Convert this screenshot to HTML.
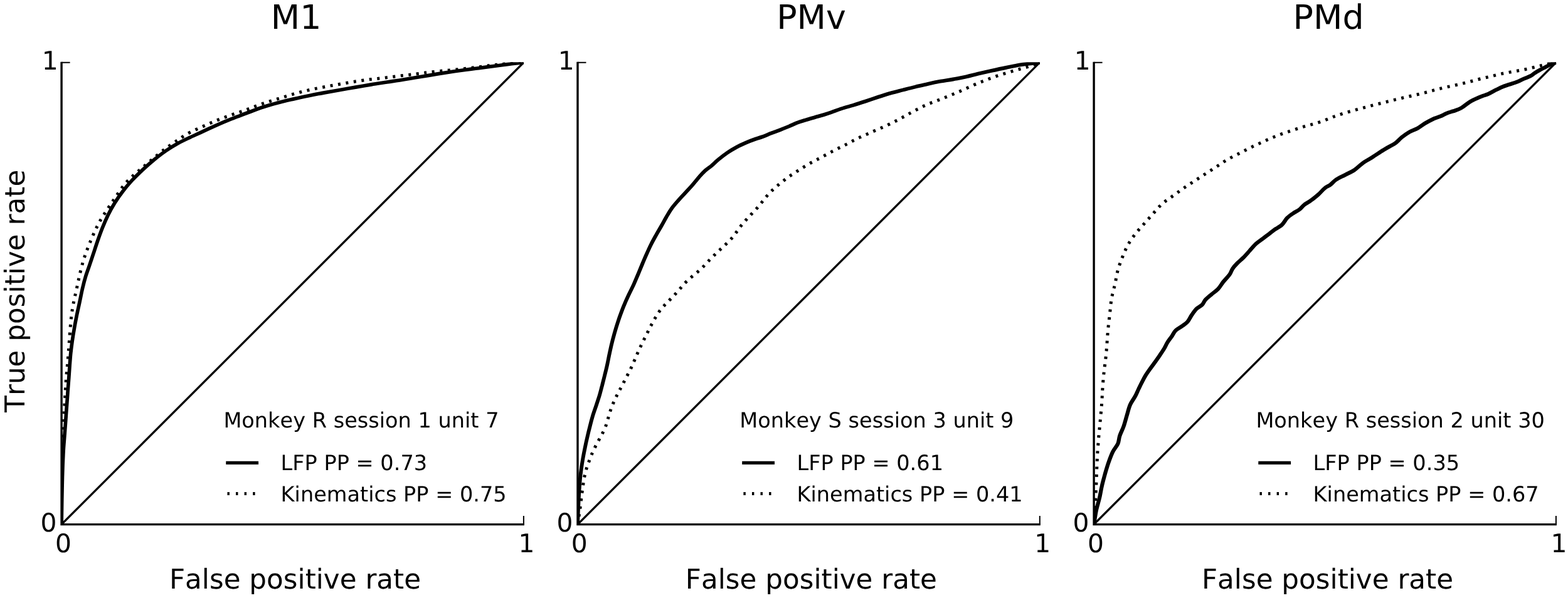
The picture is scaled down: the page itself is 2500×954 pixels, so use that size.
<!DOCTYPE html>
<html lang="en"><head><meta charset="utf-8"><title>ROC curves: M1, PMv, PMd</title>
<style>html,body{margin:0;padding:0;background:#fff;}body{width:2500px;height:954px;overflow:hidden;}main,figure{display:block;margin:0;padding:0;}svg{display:block;shape-rendering:geometricPrecision;}text{font-family:'DejaVu Sans', 'Liberation Sans', sans-serif;fill:#000;font-kerning:none;font-variant-ligatures:none;text-rendering:geometricPrecision;}</style></head><body><main><figure class="roc-figure">
<svg class="roc-panels" role="img" width="2500" height="954" viewBox="0 0 2500 954">
<rect width="2500" height="954" fill="#fff"/>
<g class="panel" id="panel-m1">
<clipPath id="clip0"><rect x="98.1" y="99.2" width="737.1" height="737.4"/></clipPath>
<g clip-path="url(#clip0)">
<line x1="98.1" y1="836.6" x2="834.9" y2="99.7" stroke="#000" stroke-width="3.3"/>
<path d="M98.1 836.6C98.2 827.1 98.4 798.1 98.6 779.6C98.8 761.1 99.1 741.5 99.5 725.6C99.9 709.7 100.4 696.2 100.9 684.4C101.4 672.5 101.9 664.0 102.5 654.4C103.0 644.7 103.5 635.1 104.0 626.3C104.5 617.5 105.1 609.1 105.7 601.7C106.3 594.2 106.9 588.8 107.5 581.7C108.2 574.6 108.8 566.9 109.4 559.0C110.0 551.0 110.6 541.8 111.2 534.0C111.8 526.3 112.3 519.0 113.0 512.2C113.7 505.4 114.4 499.4 115.4 493.2C116.3 487.1 117.6 481.6 118.9 475.5C120.2 469.3 121.7 463.1 123.1 456.5C124.6 449.8 126.0 442.5 127.6 435.9C129.2 429.2 130.9 422.6 132.7 416.5C134.5 410.4 136.5 404.9 138.6 399.2C140.7 393.5 143.0 387.8 145.2 382.6C147.3 377.4 149.6 372.3 151.6 368.0C153.6 363.7 155.2 360.5 157.1 357.0C158.9 353.4 160.7 350.3 162.8 346.9C164.9 343.5 167.3 339.9 169.5 336.5C171.7 333.1 174.0 329.6 176.1 326.4C178.3 323.1 180.5 320.0 182.7 316.8C184.8 313.6 187.0 310.5 189.2 307.2C191.4 304.0 193.6 300.6 195.9 297.6C198.3 294.5 200.6 291.8 203.2 289.1C205.8 286.3 208.5 283.7 211.3 281.2C214.1 278.6 216.7 276.3 219.8 273.6C222.9 270.9 225.9 268.6 230.1 265.0C234.3 261.4 239.8 256.6 245.1 252.3C250.3 247.9 256.7 242.6 261.6 238.8C266.5 235.0 270.6 232.2 274.4 229.6C278.2 226.9 281.1 225.1 284.5 222.8C287.9 220.5 291.2 218.1 294.8 215.9C298.4 213.7 302.2 211.6 306.0 209.7C309.8 207.8 313.9 206.0 317.8 204.3C321.6 202.5 325.3 200.8 329.0 199.2C332.8 197.5 336.4 195.9 340.2 194.3C344.1 192.7 348.0 191.1 352.0 189.5C356.0 188.0 360.1 186.4 364.2 185.0C368.2 183.5 372.2 182.2 376.2 180.8C380.2 179.5 384.1 178.2 388.1 176.8C392.0 175.4 395.9 173.9 399.8 172.4C403.7 170.9 407.5 169.4 411.5 167.9C415.5 166.4 419.6 165.0 423.6 163.7C427.7 162.3 431.8 161.1 435.9 159.9C440.0 158.6 443.9 157.4 448.0 156.2C452.1 154.9 456.2 153.6 460.3 152.3C464.4 151.1 468.5 149.8 472.7 148.7C476.8 147.5 480.8 146.4 485.0 145.4C489.2 144.4 493.4 143.4 497.8 142.5C502.1 141.5 506.5 140.7 510.9 139.8C515.2 139.0 519.5 138.2 523.8 137.4C528.1 136.6 532.4 135.9 536.7 135.1C541.0 134.4 545.3 133.6 549.7 132.9C554.0 132.1 558.4 131.3 562.8 130.6C567.1 129.9 571.5 129.2 575.8 128.6C580.2 127.9 584.6 127.4 588.9 126.8C593.3 126.3 597.6 125.9 602.0 125.4C606.4 124.9 610.7 124.5 615.1 123.9C619.5 123.4 623.9 122.8 628.3 122.2C632.7 121.7 637.2 121.1 641.7 120.5C646.1 120.0 650.7 119.5 655.1 119.0C659.6 118.5 663.5 118.0 668.4 117.3C673.3 116.7 678.0 116.0 684.5 115.3C691.0 114.6 699.2 113.7 707.5 112.9C715.8 112.1 725.5 111.2 734.4 110.2C743.2 109.3 752.5 108.1 760.8 107.1C769.1 106.1 776.6 105.0 784.2 104.1C791.8 103.2 798.0 102.4 806.5 101.7C814.9 101.0 830.2 100.0 834.9 99.7" fill="none" stroke="#000" stroke-width="5.0" stroke-dasharray="4.0 8.6" stroke-linejoin="round"/>
<path d="M98.1 836.6C98.2 830.0 98.5 810.4 98.7 797.1C99.0 783.8 99.2 768.8 99.6 756.9C99.9 744.9 100.3 735.0 100.8 725.6C101.2 716.2 101.8 708.9 102.5 700.6C103.1 692.3 103.8 683.9 104.4 675.6C105.0 667.3 105.6 658.9 106.2 650.6C106.8 642.3 107.5 633.7 108.0 625.6C108.6 617.5 109.3 609.4 109.8 602.2C110.3 595.0 110.7 588.7 111.2 582.3C111.7 575.9 112.1 570.3 112.7 564.0C113.4 557.6 114.2 550.9 115.2 544.0C116.2 537.1 117.4 529.7 118.7 522.5C119.9 515.3 121.4 508.1 122.8 501.0C124.3 493.9 125.9 487.0 127.3 480.1C128.8 473.2 130.0 466.4 131.6 459.8C133.1 453.3 134.7 447.0 136.6 440.8C138.5 434.7 140.7 429.1 142.7 423.1C144.8 417.1 146.8 411.1 148.9 404.7C151.0 398.3 153.1 391.6 155.5 384.7C157.9 377.8 160.5 370.5 163.3 363.5C166.1 356.6 169.2 349.4 172.4 342.8C175.7 336.1 179.1 330.0 182.9 323.8C186.7 317.6 190.8 311.7 195.4 305.7C199.9 299.7 205.0 293.7 210.3 287.9C215.6 282.2 221.4 276.6 227.2 271.1C233.0 265.6 239.0 260.3 245.2 255.2C251.5 250.1 258.1 245.0 264.6 240.5C271.0 236.1 277.7 232.1 283.9 228.6C290.1 225.1 296.0 222.4 302.0 219.6C308.0 216.7 313.8 214.3 320.0 211.4C326.3 208.5 332.9 205.3 339.4 202.4C345.8 199.4 352.2 196.5 358.7 193.8C365.2 191.1 371.5 188.8 378.2 186.2C385.0 183.6 392.1 180.8 399.2 178.2C406.2 175.5 413.2 172.8 420.5 170.5C427.8 168.1 435.2 166.1 442.9 164.0C450.7 161.9 459.1 160.0 467.3 158.1C475.5 156.2 483.9 154.3 492.2 152.7C500.5 151.0 508.9 149.4 517.2 147.9C525.5 146.4 533.8 144.9 542.1 143.5C550.4 142.0 558.7 140.6 567.0 139.1C575.3 137.7 583.7 136.3 592.0 134.9C600.3 133.5 608.6 132.3 616.9 131.0C625.2 129.7 633.2 128.6 641.8 127.2C650.5 125.9 659.5 124.4 668.8 122.8C678.1 121.3 688.5 119.4 697.8 117.9C707.1 116.4 716.1 115.0 724.7 113.7C733.3 112.5 741.3 111.5 749.6 110.4C757.9 109.3 766.7 108.2 774.6 107.2C782.5 106.1 790.1 105.1 797.0 104.2C803.9 103.3 809.5 102.5 815.9 101.7C822.2 101.0 831.7 100.0 834.9 99.7" fill="none" stroke="#000" stroke-width="5.7" stroke-linejoin="round"/>
</g>
<path d="M98.1 98.7 V836.6 H835.9" fill="none" stroke="#000" stroke-width="3.4"/>
<path d="M98.1 99.7 h13.5 M98.1 836.6 h13.5 M98.1 836.6 v-13.5 M834.9 836.6 v-13.5" fill="none" stroke="#000" stroke-width="2.0"/>
<text x="79.8" y="110.9" font-size="40.8" text-anchor="middle">1</text>
<text x="77.6" y="847.7" font-size="40.8" text-anchor="middle">0</text>
<text x="100.9" y="880.9" font-size="40.8" text-anchor="middle">0</text>
<text x="839.4" y="880.9" font-size="40.8" text-anchor="middle">1</text>
<text x="470.5" y="939.2" font-size="43.65" text-anchor="middle">False positive rate</text>
<text transform="translate(472.1 46.0) scale(1 0.994)" font-size="53.8" text-anchor="middle">M1</text>
<text x="356.4" y="682.4" font-size="33.55">Monkey R session 1 unit 7</text>
<line x1="360.3" y1="738.4" x2="412.1" y2="738.4" stroke="#000" stroke-width="5.2"/>
<line x1="362.5" y1="787.4" x2="412.1" y2="787.4" stroke="#000" stroke-width="5.0" stroke-dasharray="3.40 10.17"/>
<text x="447.6" y="750.4" font-size="33.55">LFP PP = 0.73</text>
<text x="447.6" y="799.7" font-size="33.55">Kinematics PP = 0.75</text>
</g>
<g class="panel" id="panel-pmv">
<clipPath id="clip1"><rect x="921.0" y="99.2" width="737.1" height="737.4"/></clipPath>
<g clip-path="url(#clip1)">
<line x1="921.0" y1="836.6" x2="1657.8" y2="99.7" stroke="#000" stroke-width="3.3"/>
<path d="M921.0 836.6C921.6 832.5 923.6 820.2 924.8 811.7C925.9 803.2 927.0 793.8 928.0 785.8C929.1 777.7 930.2 769.6 931.3 763.3C932.5 757.0 933.7 752.6 934.9 748.2C936.1 743.9 937.4 740.8 938.7 737.2C940.0 733.6 941.2 730.1 942.7 726.5C944.2 723.0 945.8 719.4 947.5 715.9C949.2 712.3 951.1 708.8 952.9 705.3C954.8 701.9 956.8 698.4 958.6 695.0C960.4 691.6 962.3 688.3 963.8 684.7C965.4 681.2 966.6 677.5 967.8 673.8C969.0 670.0 969.9 665.9 971.1 662.0C972.3 658.2 973.4 654.4 974.8 650.7C976.1 647.0 977.7 643.4 979.3 639.8C980.9 636.1 982.7 632.5 984.4 629.1C986.2 625.6 987.9 622.4 989.7 619.1C991.4 615.8 993.1 612.7 994.8 609.3C996.5 606.0 998.3 602.6 1000.1 599.1C1001.9 595.6 1003.9 592.0 1005.6 588.4C1007.3 584.8 1008.9 581.2 1010.4 577.6C1012.0 574.1 1013.4 570.6 1014.9 567.1C1016.4 563.6 1018.0 560.1 1019.6 556.6C1021.2 553.0 1022.9 549.5 1024.6 546.0C1026.3 542.4 1028.2 538.9 1029.9 535.5C1031.7 532.0 1033.3 528.5 1035.0 525.1C1036.7 521.7 1038.5 518.4 1040.2 515.2C1042.0 511.9 1043.8 508.7 1045.7 505.5C1047.7 502.3 1049.6 499.0 1051.8 496.0C1054.1 492.9 1056.7 490.1 1059.2 487.3C1061.7 484.5 1064.4 482.0 1067.0 479.3C1069.6 476.6 1072.3 474.0 1074.8 471.2C1077.4 468.4 1080.0 465.5 1082.5 462.6C1085.0 459.8 1087.3 456.8 1089.8 454.0C1092.4 451.3 1095.0 448.6 1097.8 446.0C1100.6 443.4 1103.7 441.0 1106.7 438.4C1109.7 435.9 1112.9 433.4 1115.7 430.8C1118.6 428.2 1121.2 425.5 1123.7 422.8C1126.3 420.1 1128.5 417.5 1131.1 414.9C1133.6 412.2 1136.3 409.6 1139.0 406.9C1141.7 404.3 1144.5 401.6 1147.3 399.0C1150.1 396.3 1153.0 393.8 1155.8 391.1C1158.5 388.4 1161.4 385.8 1164.0 383.0C1166.7 380.2 1169.1 377.2 1171.4 374.2C1173.7 371.2 1175.7 368.0 1177.9 365.0C1180.1 362.0 1182.4 359.1 1184.8 356.2C1187.3 353.3 1189.9 350.4 1192.5 347.6C1195.0 344.8 1197.7 342.0 1200.3 339.2C1202.8 336.4 1205.5 333.8 1207.9 331.0C1210.4 328.1 1212.7 325.1 1215.1 322.2C1217.4 319.3 1219.7 316.2 1222.1 313.3C1224.6 310.4 1227.1 307.6 1229.8 305.0C1232.5 302.3 1235.4 299.7 1238.3 297.2C1241.3 294.7 1244.3 292.1 1247.4 289.7C1250.5 287.3 1253.6 284.8 1256.8 282.5C1260.0 280.2 1263.3 278.2 1266.7 276.0C1270.0 273.8 1273.3 271.7 1276.7 269.6C1280.0 267.5 1283.5 265.2 1286.9 263.2C1290.3 261.1 1293.8 259.2 1297.2 257.4C1300.6 255.5 1304.0 253.9 1307.5 252.0C1310.9 250.2 1314.5 248.3 1318.0 246.4C1321.5 244.5 1325.1 242.4 1328.7 240.6C1332.3 238.7 1335.9 237.0 1339.5 235.2C1343.1 233.4 1346.8 231.7 1350.3 229.9C1353.9 228.0 1357.5 225.9 1361.1 224.1C1364.7 222.2 1368.3 220.3 1372.0 218.6C1375.7 216.8 1379.4 215.3 1383.1 213.7C1386.7 212.0 1390.4 210.4 1394.1 208.8C1397.9 207.1 1401.6 205.5 1405.4 203.9C1409.1 202.2 1412.9 200.6 1416.6 198.8C1420.4 197.1 1424.0 195.2 1427.7 193.3C1431.3 191.5 1434.8 189.5 1438.4 187.6C1442.0 185.7 1445.5 183.6 1449.0 181.6C1452.5 179.7 1456.1 177.7 1459.7 175.8C1463.3 174.0 1466.9 172.1 1470.5 170.3C1474.2 168.5 1477.9 166.8 1481.7 165.2C1485.5 163.7 1489.4 162.3 1493.3 160.8C1497.2 159.3 1501.1 157.8 1505.0 156.2C1508.8 154.7 1512.6 153.2 1516.4 151.6C1520.2 150.0 1524.0 148.5 1527.7 146.8C1531.5 145.2 1535.2 143.4 1539.0 141.8C1542.7 140.1 1546.5 138.3 1550.2 136.7C1554.0 135.0 1557.9 133.4 1561.6 131.8C1565.4 130.3 1569.1 128.8 1572.9 127.3C1576.6 125.8 1580.3 124.4 1584.2 123.1C1588.1 121.7 1592.1 120.4 1596.2 119.1C1600.3 117.8 1604.5 116.5 1608.6 115.3C1612.8 114.0 1616.9 112.7 1621.1 111.5C1625.3 110.4 1629.4 109.3 1633.6 108.1C1637.7 106.9 1641.8 105.8 1645.9 104.4C1649.9 103.0 1655.8 100.5 1657.8 99.7" fill="none" stroke="#000" stroke-width="5.0" stroke-dasharray="4.0 8.6" stroke-linejoin="round"/>
<path d="M921.0 836.6C921.2 830.9 921.9 812.7 922.4 802.4C922.9 792.2 923.3 783.7 924.0 775.2C924.6 766.6 925.4 758.6 926.4 751.2C927.3 743.8 928.4 737.1 929.5 730.8C930.6 724.5 931.7 718.9 932.9 713.3C934.0 707.8 935.1 702.9 936.4 697.4C937.6 691.9 939.0 686.1 940.5 680.4C941.9 674.7 943.5 668.7 945.2 662.9C947.0 657.2 949.1 651.4 950.9 646.0C952.6 640.6 954.4 635.6 955.9 630.5C957.4 625.4 958.5 620.6 959.9 615.5C961.2 610.3 962.5 605.2 963.9 599.6C965.3 593.9 966.9 587.9 968.2 581.6C969.6 575.4 970.7 568.7 972.2 562.1C973.6 555.5 975.2 548.6 976.9 542.1C978.6 535.6 980.4 529.1 982.2 523.2C984.0 517.3 985.6 512.4 987.5 506.7C989.5 501.1 991.6 495.3 994.0 489.3C996.5 483.3 999.5 476.5 1002.3 470.6C1005.0 464.6 1008.0 459.2 1010.5 453.6C1013.0 448.0 1015.1 442.7 1017.5 437.2C1019.8 431.6 1022.2 425.9 1024.4 420.5C1026.7 415.1 1028.8 410.0 1031.2 404.8C1033.5 399.6 1035.9 394.3 1038.4 389.3C1040.9 384.3 1043.5 379.7 1046.2 374.8C1048.9 370.0 1051.9 365.1 1054.6 360.3C1057.3 355.6 1059.7 350.9 1062.4 346.3C1065.1 341.7 1067.5 337.2 1070.6 332.9C1073.8 328.5 1077.5 324.3 1081.1 320.2C1084.7 316.0 1088.6 312.0 1092.3 308.0C1096.1 303.9 1099.9 300.0 1103.6 295.7C1107.3 291.5 1111.0 286.3 1114.6 282.4C1118.1 278.4 1121.4 274.9 1124.8 271.8C1128.1 268.8 1131.2 267.1 1134.7 264.2C1138.2 261.2 1141.5 257.6 1145.7 254.2C1149.9 250.8 1154.9 246.9 1159.7 243.6C1164.5 240.4 1169.7 237.3 1174.6 234.6C1179.5 231.9 1184.5 229.7 1189.1 227.7C1193.7 225.7 1197.8 224.1 1202.1 222.6C1206.4 221.0 1210.5 220.0 1215.0 218.4C1219.6 216.7 1224.6 214.5 1229.5 212.6C1234.4 210.7 1239.7 208.9 1244.5 207.0C1249.3 205.1 1254.1 203.2 1258.4 201.4C1262.7 199.5 1266.1 197.8 1270.4 196.1C1274.7 194.5 1279.6 193.0 1284.4 191.5C1289.2 190.0 1294.5 188.5 1299.3 187.1C1304.2 185.7 1309.0 184.5 1313.4 183.1C1317.9 181.7 1321.3 180.6 1325.9 179.0C1330.5 177.4 1335.3 175.4 1341.0 173.5C1346.7 171.7 1353.4 169.9 1359.9 168.0C1366.4 166.0 1373.2 163.8 1379.9 161.6C1386.5 159.4 1393.2 157.1 1399.8 154.9C1406.5 152.8 1413.1 150.6 1419.8 148.7C1426.4 146.8 1433.1 145.2 1439.7 143.5C1446.4 141.8 1453.0 140.1 1459.7 138.5C1466.3 136.9 1473.0 135.2 1479.6 133.8C1486.3 132.3 1492.9 130.9 1499.6 129.7C1506.2 128.5 1512.9 127.7 1519.5 126.5C1526.2 125.3 1532.8 124.0 1539.5 122.6C1546.2 121.1 1552.7 119.3 1559.5 117.7C1566.4 116.1 1573.3 114.5 1580.6 112.9C1587.9 111.3 1596.2 109.5 1603.6 108.0C1611.0 106.5 1618.8 104.8 1625.1 103.7C1631.3 102.7 1635.4 102.2 1640.9 101.6C1646.4 100.9 1655.0 100.0 1657.8 99.7" fill="none" stroke="#000" stroke-width="5.9" stroke-linejoin="round"/>
</g>
<path d="M921.0 98.7 V836.6 H1658.8" fill="none" stroke="#000" stroke-width="3.4"/>
<path d="M921.0 99.7 h13.5 M921.0 836.6 h13.5 M921.0 836.6 v-13.5 M1657.8 836.6 v-13.5" fill="none" stroke="#000" stroke-width="2.0"/>
<text x="902.7" y="110.9" font-size="40.8" text-anchor="middle">1</text>
<text x="900.5" y="847.7" font-size="40.8" text-anchor="middle">0</text>
<text x="923.8" y="880.9" font-size="40.8" text-anchor="middle">0</text>
<text x="1662.3" y="880.9" font-size="40.8" text-anchor="middle">1</text>
<text x="1293.4" y="939.2" font-size="43.65" text-anchor="middle">False positive rate</text>
<text transform="translate(1293.5 46.0) scale(1 0.994)" font-size="53.8" text-anchor="middle">PMv</text>
<text x="1179.3" y="682.4" font-size="33.55">Monkey S session 3 unit 9</text>
<line x1="1183.2" y1="738.4" x2="1235.0" y2="738.4" stroke="#000" stroke-width="5.2"/>
<line x1="1185.4" y1="787.4" x2="1235.0" y2="787.4" stroke="#000" stroke-width="5.0" stroke-dasharray="3.40 10.17"/>
<text x="1270.5" y="750.4" font-size="33.55">LFP PP = 0.61</text>
<text x="1270.5" y="799.7" font-size="33.55">Kinematics PP = 0.41</text>
</g>
<g class="panel" id="panel-pmd">
<clipPath id="clip2"><rect x="1744.1" y="99.2" width="737.1" height="737.4"/></clipPath>
<g clip-path="url(#clip2)">
<line x1="1744.1" y1="836.6" x2="2480.9" y2="99.7" stroke="#000" stroke-width="3.3"/>
<path d="M1744.1 836.6C1744.5 830.9 1745.8 813.0 1746.4 802.4C1747.0 791.7 1747.4 782.0 1747.8 772.6C1748.2 763.2 1748.4 754.5 1748.8 745.8C1749.1 737.1 1749.5 728.7 1750.0 720.3C1750.6 711.9 1751.2 703.9 1751.9 695.7C1752.6 687.5 1753.5 679.6 1754.2 671.4C1754.9 663.2 1755.8 654.6 1756.4 646.4C1757.0 638.2 1757.4 629.6 1757.8 622.1C1758.3 614.6 1758.8 607.5 1759.4 601.3C1759.9 595.0 1760.7 589.7 1761.3 584.7C1761.9 579.7 1762.5 575.7 1762.9 571.5C1763.4 567.3 1763.7 563.5 1764.1 559.5C1764.4 555.4 1764.7 551.3 1765.0 547.1C1765.3 543.0 1765.6 538.7 1765.9 534.5C1766.2 530.4 1766.6 526.1 1767.0 522.0C1767.4 517.8 1767.9 513.7 1768.4 509.6C1768.9 505.5 1769.3 501.5 1769.8 497.5C1770.2 493.4 1770.5 489.3 1771.0 485.4C1771.5 481.4 1772.0 477.3 1772.8 473.5C1773.5 469.7 1774.6 466.1 1775.5 462.5C1776.3 458.8 1777.3 455.3 1778.1 451.7C1778.9 448.0 1779.4 444.2 1780.2 440.5C1781.0 436.8 1781.7 433.1 1782.7 429.6C1783.7 426.1 1784.9 422.7 1786.1 419.4C1787.3 416.0 1788.6 412.7 1789.9 409.5C1791.2 406.2 1792.4 403.0 1793.9 399.8C1795.3 396.6 1796.8 393.5 1798.4 390.5C1800.1 387.6 1801.9 384.8 1803.8 382.0C1805.6 379.2 1807.6 376.6 1809.6 374.0C1811.6 371.4 1813.7 368.9 1815.8 366.4C1818.0 363.9 1820.1 361.5 1822.3 359.1C1824.5 356.6 1826.6 354.1 1828.8 351.6C1831.1 349.2 1833.3 346.7 1835.6 344.2C1837.8 341.7 1840.0 339.1 1842.2 336.6C1844.5 334.1 1846.6 331.4 1848.9 329.1C1851.3 326.7 1853.8 324.5 1856.4 322.4C1859.0 320.2 1862.0 318.3 1864.8 316.3C1867.6 314.2 1870.5 312.2 1873.4 310.2C1876.3 308.1 1879.1 306.0 1882.0 303.9C1884.9 301.8 1887.9 299.7 1890.9 297.7C1893.8 295.7 1896.8 293.7 1899.7 291.8C1902.7 289.9 1905.6 288.0 1908.6 286.1C1911.6 284.1 1914.6 282.1 1917.6 280.1C1920.6 278.2 1923.5 276.3 1926.5 274.4C1929.4 272.6 1932.4 270.7 1935.3 268.8C1938.2 266.9 1941.1 264.9 1944.0 263.0C1946.9 261.0 1949.7 259.1 1952.7 257.2C1955.7 255.4 1958.7 253.7 1961.8 251.9C1965.0 250.2 1968.2 248.6 1971.5 246.9C1974.8 245.3 1978.2 243.5 1981.5 241.8C1984.8 240.1 1988.2 238.3 1991.5 236.6C1994.8 234.9 1998.1 233.4 2001.5 231.8C2004.8 230.2 2008.1 228.7 2011.6 227.2C2015.0 225.7 2018.4 224.1 2021.9 222.5C2025.4 221.0 2028.9 219.4 2032.5 218.0C2036.0 216.5 2039.5 215.1 2043.1 213.8C2046.7 212.5 2050.3 211.3 2054.0 210.1C2057.6 208.8 2061.4 207.6 2065.2 206.4C2069.0 205.2 2072.9 203.9 2076.6 202.8C2080.4 201.6 2084.1 200.6 2087.8 199.6C2091.5 198.5 2095.1 197.6 2098.8 196.4C2102.5 195.3 2106.2 194.0 2109.9 192.7C2113.6 191.4 2117.2 189.8 2120.8 188.5C2124.4 187.1 2127.7 185.6 2131.3 184.4C2134.8 183.1 2138.4 182.0 2142.1 180.8C2145.8 179.7 2149.7 178.6 2153.6 177.5C2157.5 176.4 2161.5 175.3 2165.5 174.2C2169.4 173.1 2173.4 172.0 2177.3 171.0C2181.2 169.9 2185.1 168.9 2188.9 167.9C2192.8 166.9 2196.6 165.9 2200.5 165.0C2204.4 164.0 2208.3 163.1 2212.2 162.1C2216.1 161.2 2220.0 160.1 2224.0 159.1C2227.9 158.2 2231.9 157.1 2235.9 156.2C2239.9 155.2 2243.9 154.4 2247.9 153.5C2251.9 152.6 2255.9 151.7 2259.9 150.8C2264.0 149.8 2268.0 148.8 2271.9 147.8C2275.9 146.7 2279.7 145.7 2283.6 144.7C2287.5 143.6 2291.2 142.5 2295.2 141.5C2299.1 140.6 2303.0 139.7 2307.1 138.8C2311.1 137.9 2315.2 137.1 2319.2 136.2C2323.2 135.3 2327.2 134.4 2331.2 133.4C2335.1 132.5 2339.0 131.4 2343.0 130.4C2346.9 129.4 2350.8 128.2 2354.8 127.2C2358.7 126.2 2362.8 125.2 2366.8 124.3C2370.8 123.3 2374.8 122.4 2378.8 121.4C2382.8 120.4 2386.7 119.4 2390.8 118.4C2394.8 117.5 2399.0 116.6 2403.2 115.8C2407.3 115.0 2411.7 114.4 2415.9 113.6C2420.1 112.9 2424.1 112.2 2428.2 111.4C2432.3 110.6 2436.4 109.6 2440.5 108.7C2444.6 107.7 2448.6 106.7 2452.8 105.6C2457.0 104.6 2461.0 103.6 2465.6 102.6C2470.3 101.6 2478.4 100.2 2480.9 99.7" fill="none" stroke="#000" stroke-width="5.0" stroke-dasharray="4.0 8.6" stroke-linejoin="round"/>
<path d="M1744.1 836.6C1744.8 832.7 1746.6 820.1 1748.1 813.1C1749.6 806.2 1751.4 801.2 1752.9 794.9C1754.4 788.6 1755.3 781.8 1756.9 775.1C1758.4 768.3 1760.6 760.6 1762.3 754.4C1764.1 748.2 1765.5 743.3 1767.5 737.7C1769.5 732.1 1771.8 725.7 1774.3 720.7C1776.7 715.7 1780.5 712.1 1782.4 707.8C1784.2 703.6 1783.8 699.8 1785.3 695.2C1786.8 690.6 1789.6 685.6 1791.5 680.2C1793.4 674.8 1794.9 668.6 1796.6 662.9C1798.3 657.2 1799.7 650.9 1801.9 645.8C1804.1 640.6 1807.8 636.2 1810.0 632.0C1812.3 627.8 1813.5 624.4 1815.4 620.5C1817.3 616.6 1819.5 612.0 1821.4 608.4C1823.2 604.8 1824.5 602.2 1826.4 599.1C1828.3 595.9 1830.6 592.8 1832.9 589.5C1835.2 586.2 1837.6 583.1 1840.3 579.4C1843.0 575.7 1846.2 571.1 1848.9 567.2C1851.5 563.3 1854.1 559.5 1856.2 556.0C1858.3 552.4 1859.5 549.2 1861.6 545.9C1863.7 542.6 1866.6 539.1 1868.7 536.0C1870.8 532.9 1871.8 529.9 1874.3 527.4C1876.8 524.9 1880.7 523.2 1883.9 520.8C1887.1 518.4 1890.8 516.3 1893.5 513.2C1896.2 510.1 1897.8 505.8 1900.2 502.4C1902.6 499.0 1905.0 495.3 1907.8 492.6C1910.6 489.8 1914.7 488.3 1917.0 485.9C1919.3 483.5 1919.4 481.1 1921.8 478.4C1924.2 475.7 1928.0 472.7 1931.4 469.8C1934.8 466.9 1939.1 464.2 1942.2 460.9C1945.4 457.6 1947.2 453.7 1950.3 449.8C1953.4 445.9 1958.1 441.2 1960.6 437.7C1963.1 434.2 1963.2 431.7 1965.2 428.7C1967.2 425.7 1969.7 422.9 1972.6 420.0C1975.5 417.0 1979.1 414.3 1982.4 411.0C1985.7 407.7 1989.1 403.7 1992.4 400.0C1995.7 396.3 1998.9 392.3 2002.4 389.0C2005.9 385.8 2010.1 383.2 2013.4 380.7C2016.7 378.2 2019.3 376.3 2022.3 374.1C2025.2 371.8 2027.4 369.7 2031.0 367.2C2034.6 364.6 2040.4 361.8 2043.9 358.6C2047.4 355.4 2049.0 351.0 2052.0 347.9C2055.0 344.8 2058.5 342.5 2061.8 340.3C2065.1 338.0 2068.6 336.7 2071.6 334.4C2074.6 332.1 2076.5 329.0 2079.6 326.6C2082.6 324.1 2086.4 322.6 2090.1 319.8C2093.9 317.1 2098.5 313.3 2102.2 310.1C2105.9 306.8 2109.1 302.6 2112.3 300.1C2115.4 297.5 2118.1 297.0 2121.1 294.8C2124.1 292.5 2126.4 289.1 2130.4 286.5C2134.3 283.9 2139.9 281.5 2144.8 278.9C2149.7 276.3 2155.0 274.2 2159.6 271.1C2164.2 268.0 2167.9 263.7 2172.5 260.4C2177.1 257.1 2182.3 254.5 2187.2 251.4C2192.1 248.3 2197.5 244.6 2202.0 241.7C2206.5 238.8 2210.7 236.4 2214.5 234.2C2218.3 232.0 2221.2 231.1 2224.6 228.6C2228.0 226.1 2231.1 222.2 2234.8 219.2C2238.5 216.2 2243.0 213.0 2247.1 210.6C2251.2 208.2 2255.4 207.3 2259.6 205.0C2263.7 202.7 2267.9 199.2 2272.0 196.8C2276.2 194.3 2280.4 192.0 2284.5 190.1C2288.6 188.2 2293.1 186.9 2296.8 185.4C2300.5 183.8 2303.5 181.9 2306.9 180.6C2310.3 179.2 2313.3 178.6 2317.1 177.3C2320.9 175.9 2325.2 174.9 2329.6 172.4C2334.0 169.9 2340.0 164.7 2343.7 162.3C2347.5 159.9 2349.1 159.5 2352.2 158.0C2355.3 156.6 2359.1 154.9 2362.5 153.6C2365.8 152.3 2369.0 151.7 2372.4 150.2C2375.8 148.7 2378.9 146.7 2382.6 144.8C2386.3 142.9 2390.8 140.5 2394.8 138.8C2398.7 137.1 2402.2 136.2 2406.3 134.8C2410.4 133.4 2415.6 132.0 2419.5 130.4C2423.4 128.9 2426.4 127.1 2429.9 125.5C2433.4 124.0 2437.7 122.6 2440.6 121.1C2443.6 119.5 2444.8 117.8 2447.6 116.1C2450.3 114.3 2454.1 112.3 2457.1 110.6C2460.2 108.9 2463.2 107.5 2465.9 106.1C2468.6 104.7 2470.9 103.0 2473.4 102.0C2475.9 100.9 2479.7 100.1 2480.9 99.7" fill="none" stroke="#000" stroke-width="6.2" stroke-linejoin="round"/>
</g>
<path d="M1744.1 98.7 V836.6 H2481.9" fill="none" stroke="#000" stroke-width="3.4"/>
<path d="M1744.1 99.7 h13.5 M1744.1 836.6 h13.5 M1744.1 836.6 v-13.5 M2480.9 836.6 v-13.5" fill="none" stroke="#000" stroke-width="2.0"/>
<text x="1725.8" y="110.9" font-size="40.8" text-anchor="middle">1</text>
<text x="1723.6" y="847.7" font-size="40.8" text-anchor="middle">0</text>
<text x="1746.9" y="880.9" font-size="40.8" text-anchor="middle">0</text>
<text x="2485.4" y="880.9" font-size="40.8" text-anchor="middle">1</text>
<text x="2116.5" y="939.2" font-size="43.65" text-anchor="middle">False positive rate</text>
<text transform="translate(2118.1 46.0) scale(1 0.994)" font-size="53.8" text-anchor="middle">PMd</text>
<text x="2002.4" y="682.4" font-size="33.55">Monkey R session 2 unit 30</text>
<line x1="2006.3" y1="738.4" x2="2058.1" y2="738.4" stroke="#000" stroke-width="5.2"/>
<line x1="2008.5" y1="787.4" x2="2058.1" y2="787.4" stroke="#000" stroke-width="5.0" stroke-dasharray="3.40 10.17"/>
<text x="2093.6" y="750.4" font-size="33.55">LFP PP = 0.35</text>
<text x="2093.6" y="799.7" font-size="33.55">Kinematics PP = 0.67</text>
</g>
<text transform="translate(38.6 464.2) rotate(-90)" font-size="43.7" text-anchor="middle">True positive rate</text>
</svg></figure></main></body></html>
